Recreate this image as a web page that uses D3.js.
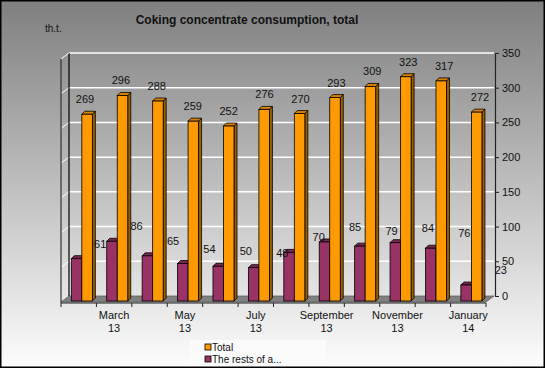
<!DOCTYPE html>
<html>
<head>
<meta charset="utf-8">
<script src="https://cdn.jsdelivr.net/npm/d3@7"></script>
<style>
  body { margin: 0; }
  svg { display: block; font-family: "Liberation Sans", Arial, sans-serif; }
</style>
</head>
<body>
<script>
// chart data
var months = ["February 13", "March 13", "April 13", "May 13", "June 13", "July 13",
              "August 13", "September 13", "October 13", "November 13", "December 13", "January 14"];
var totalValues = [269, 296, 288, 259, 252, 276, 270, 293, 309, 323, 317, 272];
var restValues = [61, 86, 65, 54, 50, 48, 70, 85, 79, 84, 76, 23];
var seriesNames = ["Total", "The rests of a..."];
var yTicks = [0, 50, 100, 150, 200, 250, 300, 350];

var width = 545, height = 368;
var dx = 8, dy = -6; // depth of the 3d box
var bd = 3;          // depth of each bar

var svg = d3.select("body").append("svg")
  .attr("width", width)
  .attr("height", height);

var defs = svg.append("defs");
var grad = defs.append("linearGradient")
  .attr("id", "bg").attr("x1", 0).attr("y1", 0).attr("x2", 0).attr("y2", 1);
grad.append("stop").attr("offset", "0%").attr("stop-color", "#7f7f7f");
grad.append("stop").attr("offset", "100%").attr("stop-color", "#fdfdfd");

svg.append("rect")
  .attr("width", width).attr("height", height)
  .attr("fill", "url(#bg)");

// scales
var x = d3.scaleBand().domain(months).range([61, 486]);
var yFront = d3.scaleLinear().domain([0, 350]).range([302, 59]);
var yBar = d3.scaleLinear().domain([0, 350]).range([301, 58]);
var yBack = d3.scaleLinear().domain([0, 350]).range([296, 53]);
var xLabTotal = d3.scaleBand().domain(months).range([67, 498]);
var xLabRest = d3.scaleBand().domain(months).range([82, 519]);

var x0 = 61, x1 = 486;

// floor
svg.append("path")
  .attr("d", "M" + x0 + "," + yFront(0) + "L" + x1 + "," + yFront(0) +
    "L" + (x1 + dx) + "," + yBack(0) + "L" + (x0 + dx) + "," + yBack(0) + "Z")
  .attr("fill", "#808080")
  .attr("stroke", "#606060")
  .attr("stroke-width", 0.8);

// gridlines on back wall and left wall
yTicks.forEach(function (t) {
  if (t === 0) return;
  svg.append("line")
    .attr("x1", x0 + dx).attr("x2", x1 + dx)
    .attr("y1", yBack(t)).attr("y2", yBack(t))
    .attr("stroke", "#ffffff").attr("stroke-width", 1.5);
  svg.append("line")
    .attr("x1", x0).attr("x2", x0 + dx)
    .attr("y1", yFront(t)).attr("y2", yBack(t))
    .attr("stroke", "#ffffff").attr("stroke-width", 1);
});

// left walls edges
svg.append("line")
  .attr("x1", x0 + dx).attr("x2", x0 + dx)
  .attr("y1", yBack(350)).attr("y2", yBack(0))
  .attr("stroke", "#000").attr("stroke-width", 1.2);
svg.append("line")
  .attr("x1", x0).attr("x2", x0)
  .attr("y1", yFront(350)).attr("y2", yFront(0) + 1)
  .attr("stroke", "#333").attr("stroke-width", 1.2);
svg.append("line")
  .attr("x1", x0).attr("x2", x0 + dx)
  .attr("y1", yFront(350)).attr("y2", yBack(350))
  .attr("stroke", "#ddd").attr("stroke-width", 1);

// bars
function bar3d(g, bx, bw, val, face, side, top) {
  var yt = yBar(val), yb = yBar(0);
  g.append("path")
    .attr("d", "M" + (bx + bw) + "," + yb + "L" + (bx + bw + bd) + "," + (yb - bd) +
      "L" + (bx + bw + bd) + "," + (yt - bd) + "L" + (bx + bw) + "," + yt + "Z")
    .attr("fill", side).attr("stroke", "#000").attr("stroke-width", 0.8);
  g.append("path")
    .attr("d", "M" + bx + "," + yt + "L" + (bx + bd) + "," + (yt - bd) +
      "L" + (bx + bw + bd) + "," + (yt - bd) + "L" + (bx + bw) + "," + yt + "Z")
    .attr("fill", top).attr("stroke", "#000").attr("stroke-width", 0.8);
  g.append("rect")
    .attr("x", bx).attr("y", yt).attr("width", bw).attr("height", yb - yt)
    .attr("fill", face).attr("stroke", "#000").attr("stroke-width", 0.8);
}

var bw = x.bandwidth() * 0.297;
var bars = svg.append("g");
months.forEach(function (m, i) {
  var g = bars.append("g");
  bar3d(g, x(m) + 10.3, bw, restValues[i], "#993366", "#5e1f3f", "#7a2850");
  bar3d(g, x(m) + 10.3 + bw, bw, totalValues[i], "#ff9900", "#9a5e00", "#d98200");
});

// value labels
svg.append("g").selectAll("text")
  .data(totalValues).enter().append("text")
  .attr("x", function (d, i) { return xLabTotal(months[i]) + xLabTotal.bandwidth() / 2; })
  .attr("y", function (d) { return yBar(d) - 11; })
  .attr("text-anchor", "middle")
  .attr("font-size", 11)
  .attr("fill", "#111")
  .text(function (d) { return d; });

svg.append("g").selectAll("text")
  .data(restValues).enter().append("text")
  .attr("x", function (d, i) { return xLabRest(months[i]) + xLabRest.bandwidth() / 2; })
  .attr("y", function (d) { return yBar(d) - 11; })
  .attr("text-anchor", "middle")
  .attr("font-size", 11)
  .attr("fill", "#111")
  .text(function (d) { return d; });

// right axis on back plane
var yAxis = d3.axisRight(yBack).tickValues(yTicks).tickSize(4).tickSizeOuter(0);
var ya = svg.append("g")
  .attr("transform", "translate(" + (x1 + dx + 1) + ",0)")
  .call(yAxis);
ya.select(".domain").attr("stroke", "#222").attr("stroke-width", 1.2);
ya.selectAll(".tick line").attr("stroke", "#222");
ya.selectAll("text").attr("font-size", 11).attr("fill", "#111")
  .attr("font-family", "Liberation Sans, Arial, sans-serif").attr("x", 7);

// bottom axis
var xa = svg.append("g").attr("transform", "translate(0,303)");
xa.append("line").attr("x1", x0).attr("x2", x1).attr("y1", 0).attr("y2", 0)
  .attr("stroke", "#222").attr("stroke-width", 1.2);
xa.selectAll(".tk").data(months.concat(["end"])).enter().append("line")
  .attr("x1", function (d) { return d === "end" ? x1 : x(d); })
  .attr("x2", function (d) { return d === "end" ? x1 : x(d); })
  .attr("y1", 0).attr("y2", 4)
  .attr("stroke", "#222");
var lab = xa.selectAll(".lab").data(months.filter(function (d, i) { return i % 2 === 1; }))
  .enter().append("text")
  .attr("text-anchor", "middle")
  .attr("font-size", 11)
  .attr("fill", "#111")
  .attr("transform", function (d) { return "translate(" + (x(d) + x.bandwidth() / 2) + ",0)"; });
lab.append("tspan").attr("x", 0).attr("y", 16).text(function (d) { return d.split(" ")[0]; });
lab.append("tspan").attr("x", 0).attr("y", 29).text(function (d) { return d.split(" ")[1]; });

// titles
svg.append("text")
  .attr("x", 247).attr("y", 24)
  .attr("text-anchor", "middle")
  .attr("font-size", 12).attr("font-weight", "bold")
  .attr("fill", "#111")
  .text("Coking concentrate  consumption, total");
svg.append("text")
  .attr("x", 45).attr("y", 32)
  .attr("font-size", 10).attr("fill", "#111")
  .text("th.t.");

// legend
var legend = svg.append("g").attr("transform", "translate(204,340)");
legend.append("rect").attr("x", -14).attr("y", 0).attr("width", 136).attr("height", 24)
  .attr("fill", "#fbfbfb");
var legColors = ["#ff9900", "#993366"];
seriesNames.forEach(function (n, i) {
  legend.append("rect").attr("x", 1).attr("y", 4 + i * 12).attr("width", 6).attr("height", 6)
    .attr("fill", legColors[i]).attr("stroke", "#000").attr("stroke-width", 0.8);
  legend.append("text").attr("x", 8).attr("y", 10.5 + i * 12)
    .attr("font-size", 10).attr("fill", "#111").text(n);
});

// border
svg.append("rect")
  .attr("x", 0.75).attr("y", 0.75).attr("width", width - 1.5).attr("height", height - 1.5)
  .attr("fill", "none").attr("stroke", "#000").attr("stroke-width", 1.5);
</script>
</body>
</html>
